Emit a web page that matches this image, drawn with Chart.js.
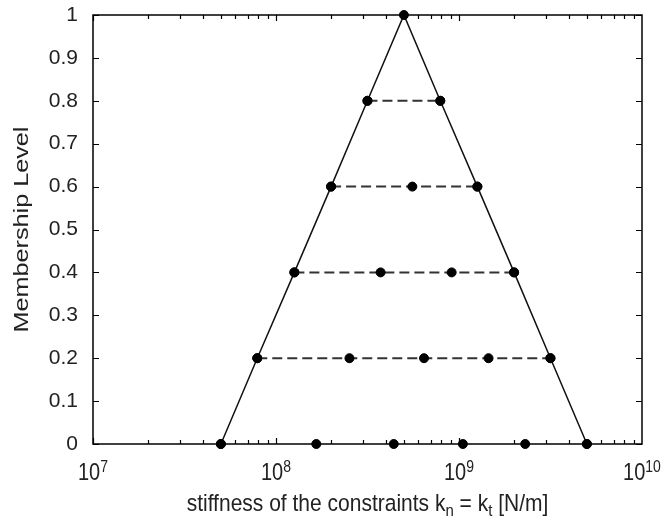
<!DOCTYPE html>
<html>
<head>
<meta charset="utf-8">
<script src="https://cdn.jsdelivr.net/npm/chart.js@4.4.1/dist/chart.umd.min.js"></script>
<style>
  html, body { margin: 0; padding: 0; background: #fff; }
  canvas { display: block; }
</style>
</head>
<body>
<canvas id="chart" width="664" height="520"></canvas>
<script>
// triangular membership function
var triangleX = [5e7, 7.9e7, 1.26e8, 2.0e8, 3.16e8, 5e8, 7.9e8, 1.26e9, 2.0e9, 3.16e9, 5e9];
var triangleY = [0, 0.2, 0.4, 0.6, 0.8, 1, 0.8, 0.6, 0.4, 0.2, 0];

// alpha-cut samples at each membership level
var cutLevels = [0.8, 0.6, 0.4, 0.2];
var cut08 = [3.16e8, 7.9e8];
var cut06 = [2.0e8, 5.56e8, 1.26e9];
var cut04 = [1.26e8, 3.73e8, 9.12e8, 2.0e9];
var cut02 = [7.9e7, 2.52e8, 6.44e8, 1.45e9, 3.16e9];
var cut00 = [5e7, 1.66e8, 4.4e8, 1.05e9, 2.3e9, 5e9];

var xTickExponents = [7, 8, 9, 10];
var FONT = '"Liberation Sans", Arial, sans-serif';

function toPoints(xs, y) {
    return xs.map(function (x, i) { return { x: x, y: Array.isArray(y) ? y[i] : y }; });
}

var dotStyle = {
    pointRadius: 4.5, pointHoverRadius: 4.5, pointBorderWidth: 1,
    pointBackgroundColor: '#000', pointBorderColor: '#000', clip: false
};

var datasets = [];
var cuts = [cut08, cut06, cut04, cut02];
for (var i = 0; i < cuts.length; i++) {
    datasets.push(Object.assign({
        data: toPoints(cuts[i], cutLevels[i]),
        showLine: true, borderColor: '#333', borderWidth: 2, borderDash: [10, 5]
    }, dotStyle));
}
datasets.push(Object.assign({ data: toPoints(cut00, 0), showLine: false }, dotStyle));
datasets.push(Object.assign({
    data: toPoints(triangleX, triangleY),
    showLine: true, borderColor: '#111', borderWidth: 1.5
}, dotStyle));

function stretchText(ctx, str, x, y, sx, sy) {
    ctx.save();
    ctx.translate(x, y);
    ctx.scale(sx, sy);
    ctx.fillText(str, 0, 0);
    ctx.restore();
}

var decorations = {
    id: 'decorations',
    beforeDatasetsDraw: function (chart) {
        var ctx = chart.ctx, a = chart.chartArea;
        var xs = chart.scales.x, ys = chart.scales.y;
        ctx.save();
        ctx.strokeStyle = '#000';
        ctx.lineWidth = 1.2;
        ctx.beginPath();
        // inward ticks, log x axis (top and bottom)
        for (var e = 7; e < 10; e++) {
            for (var m = 1; m <= 9; m++) {
                var px = Math.round(xs.getPixelForValue(m * Math.pow(10, e))) + 0.5;
                var len = m === 1 ? 6 : 4;
                ctx.moveTo(px, a.bottom); ctx.lineTo(px, a.bottom - len);
                ctx.moveTo(px, a.top); ctx.lineTo(px, a.top + len);
            }
        }
        // inward ticks, y axis (left and right)
        ys.ticks.forEach(function (t) {
            var py = Math.round(ys.getPixelForValue(t.value)) + 0.5;
            ctx.moveTo(a.left, py); ctx.lineTo(a.left + 6, py);
            ctx.moveTo(a.right, py); ctx.lineTo(a.right - 6, py);
        });
        ctx.stroke();
        ctx.lineWidth = 1.5;
        ctx.strokeRect(a.left, a.top, a.right - a.left, a.bottom - a.top);
        ctx.restore();
    },
    afterDraw: function (chart) {
        var ctx = chart.ctx, a = chart.chartArea;
        var xs = chart.scales.x;
        ctx.save();
        ctx.fillStyle = '#222';
        ctx.textBaseline = 'alphabetic';
        ctx.textAlign = 'left';

        // x tick labels 10^n
        xTickExponents.forEach(function (e) {
            var px = xs.getPixelForValue(Math.pow(10, e));
            ctx.font = '20px ' + FONT;
            var wb = ctx.measureText('10').width;
            ctx.font = '14px ' + FONT;
            var we = ctx.measureText(String(e)).width;
            var x0 = px - (wb + we) / 2;
            ctx.font = '20px ' + FONT;
            stretchText(ctx, '10', x0, 480, 1, 1.2);
            ctx.font = '14px ' + FONT;
            stretchText(ctx, String(e), x0 + wb, 472, 1, 1.2);
        });

        // x axis title with subscripts
        var parts = [
            ['stiffness of the constraints k', 21, 0],
            ['n', 15, 5],
            [' = k', 21, 0],
            ['t', 15, 5],
            [' [N/m]', 21, 0]
        ];
        var total = 0;
        parts.forEach(function (p) {
            ctx.font = p[1] + 'px ' + FONT;
            p.push(ctx.measureText(p[0]).width);
            total += p[3];
        });
        var cx = (a.left + a.right) / 2 - total / 2;
        parts.forEach(function (p) {
            ctx.font = p[1] + 'px ' + FONT;
            stretchText(ctx, p[0], cx, 511 + p[2], 1, 1.15);
            cx += p[3];
        });

        // y axis title
        ctx.font = '21px ' + FONT;
        ctx.textAlign = 'center';
        ctx.save();
        ctx.translate(28, (a.top + a.bottom) / 2);
        ctx.rotate(-Math.PI / 2);
        ctx.scale(1.2, 1);
        ctx.fillText('Membership Level', 0, 0);
        ctx.restore();
        ctx.restore();
    }
};

new Chart(document.getElementById('chart'), {
    type: 'scatter',
    data: { datasets: datasets },
    plugins: [decorations],
    options: {
        responsive: false,
        animation: false,
        layout: { padding: { top: 15, right: 22, left: 0, bottom: 0 } },
        plugins: { legend: { display: false }, tooltip: { enabled: false } },
        scales: {
            x: {
                type: 'logarithmic',
                min: 1e7, max: 1e10,
                grid: { display: false },
                border: { display: false },
                ticks: { display: false },
                afterFit: function (s) { s.height = 76; s.paddingLeft = 0; s.paddingRight = 0; }
            },
            y: {
                min: 0, max: 1,
                grid: { display: false, drawTicks: false },
                border: { display: false },
                ticks: {
                    stepSize: 0.1,
                    padding: 15,
                    color: '#222',
                    font: { family: FONT, size: 21 },
                    callback: function (v) { return String(Math.round(v * 10) / 10); }
                },
                afterFit: function (s) { s.width = 93; s.paddingTop = 0; s.paddingBottom = 0; }
            }
        }
    }
});
</script>
</body>
</html>
